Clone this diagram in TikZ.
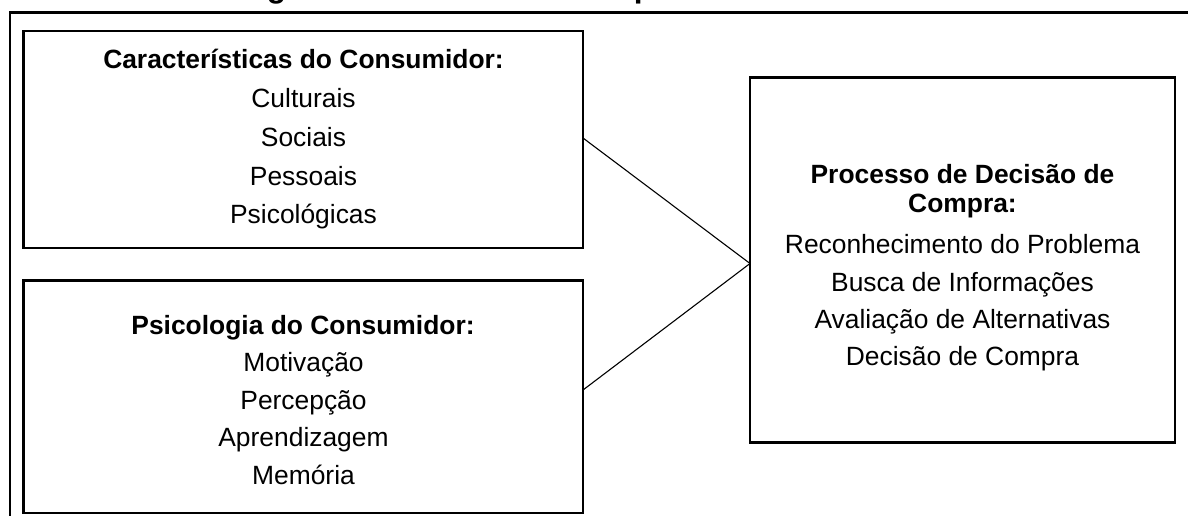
\documentclass[tikz,border=0pt]{standalone}
\usepackage{fontspec}
\setmainfont{Liberation Sans}
\usetikzlibrary{calc}

\tikzset{
  frameline/.style={line width=2.5pt, line cap=rect},
  panel/.style={draw, rectangle, line width=2.5pt, inner sep=0pt, outer sep=0pt},
  link/.style={line width=1.1pt},
  body/.style={anchor=base, inner sep=0pt, font=\fontsize{26.4}{30}\selectfont},
  head/.style={anchor=base, inner sep=0pt, font=\fontsize{26.4}{30}\selectfont\bfseries},
  caption/.style={anchor=base, inner sep=0pt, font=\fontsize{31.6}{36}\selectfont\bfseries}
}

\begin{document}
\begin{tikzpicture}[x=1pt, y=-1pt]
\useasboundingbox (0,0) rectangle (1188,516);

% figure caption, sitting on the top edge
\node[caption] (titulo) at (604,-2) {Figura 1 – Modelo do Comportamento do Cliente};

% outer frame (top and left rules)
\coordinate (fa) at (10,530);
\coordinate (fb) at (10,12.5);
\coordinate (fc) at (1200,12.5);
\draw[frameline] (fa) -- (fb) -- (fc);

% the three panels
\node[panel, minimum width=559.5pt, minimum height=217pt] (carac) at (303.25,139.5) {};
\node[panel, minimum width=559.5pt, minimum height=232.5pt] (psico) at (303.25,396.75) {};
\node[panel, minimum width=425pt, minimum height=365pt] (proc) at (962.5,260) {};

% Características do Consumidor
\node[head] (c0) at (303.5,69) {Características do Consumidor:};
\node[body] (c1) at (303.5,108) {Culturais};
\node[body] (c2) at (303.5,146.5) {Sociais};
\node[body] (c3) at (303.5,185) {Pessoais};
\node[body] (c4) at (303.5,223.5) {Psicológicas};

% Psicologia do Consumidor
\node[head] (p0) at (303,334.5) {Psicologia do Consumidor:};
\node[body] (p1) at (303.5,371.5) {Motivação};
\node[body] (p2) at (303.5,409.5) {Percepção};
\node[body] (p3) at (303.5,446.5) {Aprendizagem};
\node[body] (p4) at (303.5,484.5) {Memória};

% Processo de Decisão de Compra
\node[head] (d0) at (962.5,183) {Processo de Decisão de};
\node[head] (d1) at (962.5,212) {Compra:};
\node[body] (d2) at (962.5,253) {Reconhecimento do Problema};
\node[body] (d3) at (962.5,291) {Busca de Informações};
\node[body] (d4) at (962.5,328) {Avaliação de Alternativas};
\node[body] (d5) at (962.5,365) {Decisão de Compra};

% connectors converging on the decision process
\draw[link] ([yshift=1.5pt]carac.east) -- ([yshift=-3.5pt]proc.west);
\draw[link] ([yshift=6.75pt]psico.east) -- ([yshift=-3.5pt]proc.west);
\end{tikzpicture}
\end{document}
